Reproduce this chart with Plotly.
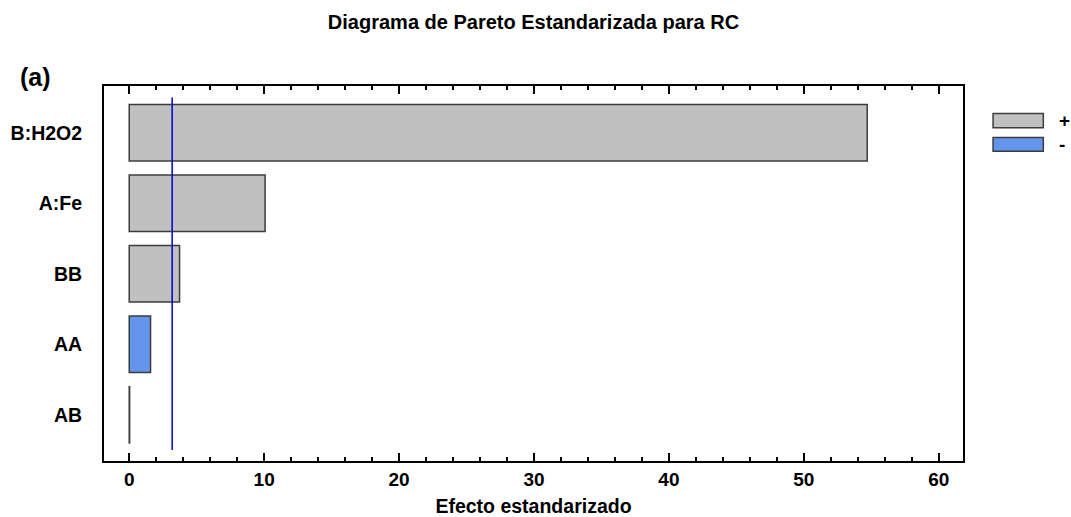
import plotly.graph_objects as go

# Standardized effects for RC (absolute values), sorted for the Pareto chart
factors = ["B:H2O2", "A:Fe", "BB", "AA", "AB"]
effects = [54.7, 10.07, 3.73, 1.58, 0.03]
signs = ["+", "+", "+", "-", "+"]
t_critical = 3.182

x_ticks = [0, 10, 20, 30, 40, 50, 60]

grey = "#C0C0C0"
blue = "#6495ED"
edge = "#3C3C3C"
font_family = "Liberation Sans, Arial, sans-serif"

fig = go.Figure()

for sign, colour in (("+", grey), ("-", blue)):
    ys = [f for f, s in zip(factors, signs) if s == sign]
    xs = [e for e, s in zip(effects, signs) if s == sign]
    fig.add_trace(go.Bar(
        x=xs, y=ys, orientation="h", width=0.8,
        marker=dict(color=colour, line=dict(color=edge, width=1.5)),
        name=sign, showlegend=False,
    ))

# critical value of the standardized effect
fig.add_shape(type="line", xref="x", yref="y",
              x0=t_critical, x1=t_critical, y0=-0.5, y1=len(factors) - 0.5,
              line=dict(color="#0000CC", width=1.5))

# sign key on the right
key = [("+", grey, 0.927, 0.889), ("-", blue, 0.863, 0.826)]
for label, colour, ytop, ybot in key:
    fig.add_shape(type="rect", xref="paper", yref="paper",
                  x0=1.035, x1=1.0935, y0=ybot, y1=ytop,
                  fillcolor=colour, line=dict(color=edge, width=1.5))
    fig.add_annotation(xref="paper", yref="paper", x=1.110, y=(ytop + ybot) / 2,
                       text="<b>%s</b>" % label, showarrow=False,
                       xanchor="left", yanchor="middle",
                       font=dict(size=19, color="black", family=font_family))

fig.add_annotation(xref="paper", yref="paper", x=-0.080, y=1.023,
                   text="<b>(a)</b>", showarrow=False,
                   xanchor="center", yanchor="middle",
                   font=dict(size=25, color="black", family=font_family))

fig.update_layout(
    width=1071, height=517,
    margin=dict(l=103.5, r=108.3, t=85.7, b=56.3, autoexpand=False),
    plot_bgcolor="white", paper_bgcolor="white",
    font=dict(family=font_family, color="black"),
    bargap=0.2,
    title=dict(text="<b>Diagrama de Pareto Estandarizada para RC</b>",
               x=0.5, xref="paper", xanchor="center", y=1 - 22 / 517, yanchor="middle",
               font=dict(size=20, color="black", family=font_family)),
    xaxis=dict(
        range=[-1.87, 61.8], tickvals=x_ticks,
        ticktext=["<b>%d</b>" % v for v in x_ticks],
        ticks="inside", ticklen=8, tickwidth=2, tickcolor="black",
        minor=dict(dtick=2, ticks="inside", ticklen=4, tickwidth=1.5, tickcolor="black"),
        showline=True, linewidth=2, linecolor="black", mirror="allticks",
        showgrid=False, zeroline=False, automargin=False,
        tickfont=dict(size=19, color="black"),
        title=dict(text="<b>Efecto estandarizado</b>", standoff=12,
                   font=dict(size=19.5, color="black")),
    ),
    yaxis=dict(
        type="category", categoryorder="array", categoryarray=factors[::-1],
        range=[-0.655, 4.664],
        tickvals=factors, ticktext=["<b>%s</b>" % f for f in factors],
        ticks="", ticklabelstandoff=16,
        showline=True, linewidth=2, linecolor="black", mirror=True,
        showgrid=False, zeroline=False, automargin=False,
        tickfont=dict(size=19.5, color="black"),
    ),
)

fig.write_html("out.html")
